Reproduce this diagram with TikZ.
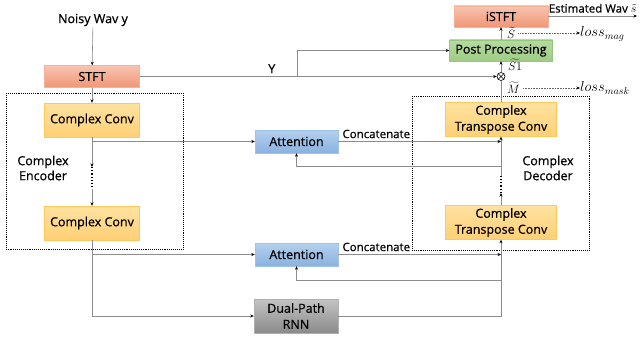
\documentclass[tikz,border=0pt]{standalone}
\usepackage{fontspec}
\setmainfont{Open Sans}[FakeBold=0.7]
\usetikzlibrary{arrows.meta}

\definecolor{fftTop}{RGB}{248,196,176}
\definecolor{fftBot}{RGB}{240,150,118}
\definecolor{fftEdge}{RGB}{245,178,150}
\definecolor{convTop}{RGB}{255,226,160}
\definecolor{convBot}{RGB}{255,208,118}
\definecolor{convEdge}{RGB}{255,200,95}
\definecolor{attTop}{RGB}{180,208,238}
\definecolor{attBot}{RGB}{138,178,224}
\definecolor{attEdge}{RGB}{160,196,232}
\definecolor{ppTop}{RGB}{182,218,160}
\definecolor{ppBot}{RGB}{160,204,134}
\definecolor{ppEdge}{RGB}{150,198,124}
\definecolor{rnnTop}{RGB}{196,196,196}
\definecolor{rnnBot}{RGB}{138,138,138}
\definecolor{rnnEdge}{RGB}{176,176,176}
\definecolor{wire}{RGB}{140,140,140}

\begin{document}
\begin{tikzpicture}[x=1pt,y=-1pt,
	blk/.style={inner sep=0pt, align=center, font=\fontsize{12.5}{16}\selectfont},
	fftbox/.style={blk, draw=fftEdge, top color=fftTop, bottom color=fftBot, minimum width=95, minimum height=22},
	convbox/.style={blk, draw=convEdge, top color=convTop, bottom color=convBot, minimum width=95, minimum height=34},
	deconvbox/.style={blk, draw=convEdge, top color=convTop, bottom color=convBot, minimum width=111, minimum height=34},
	attbox/.style={blk, draw=attEdge, top color=attTop, bottom color=attBot, minimum width=83, minimum height=23},
	ppbox/.style={blk, draw=ppEdge, top color=ppTop, bottom color=ppBot, minimum width=103, minimum height=21},
	rnnbox/.style={blk, draw=rnnEdge, top color=rnnTop, bottom color=rnnBot, minimum width=84, minimum height=34},
	txt/.style={inner sep=1pt, align=center, font=\fontsize{12.5}{15}\selectfont},
	small/.style={inner sep=1pt, font=\fontsize{11.5}{13}\selectfont},
	mlab/.style={inner sep=0pt, font=\fontsize{12}{14}\selectfont},
	losslab/.style={inner sep=0pt, font=\fontsize{14.4}{17}\selectfont},
	conn/.style={draw=wire, line width=0.6pt},
	arr/.style={conn, -{Stealth[length=3.5pt,width=3pt,black]}},
	dotconn/.style={draw=black, line width=1.2pt, dotted},
	lossarr/.style={draw=black!60, line width=0.6pt, densely dotted, -{Stealth[length=3.5pt,width=3pt,black]}},
	dotbox/.style={draw=black, line width=0.9pt, densely dotted}]
\useasboundingbox (0,0) rectangle (640,337);

% encoder / decoder frames
\draw[dotbox] (6,93) rectangle (183,249);
\draw[dotbox] (412,96) rectangle (589,250);

% blocks
\node[txt] (noisy) at (93,20) {Noisy Wav y};
\node[fftbox] (stft) at (92,76.5) {STFT};
\node[convbox] (enc1) at (92,120) {Complex Conv};
\node[convbox] (enc2) at (92,223) {Complex Conv};
\node[txt] (enclab) at (43,168) {Complex\\Encoder};
\node[attbox] (att1) at (296.5,141.5) {Attention};
\node[attbox] (att2) at (296.5,254.5) {Attention};
\node[rnnbox] (rnn) at (296,316) {Dual-Path\\RNN};
\node[deconvbox] (dec1) at (501,119.5) {Complex\\Transpose Conv};
\node[deconvbox] (dec2) at (501,222.5) {Complex\\Transpose Conv};
\node[txt] (declab) at (548,168) {Complex\\Decoder};
\node[circle, draw, line width=0.6pt, minimum size=8pt, inner sep=0pt] (mul) at (501,76.5) {};
\draw[line width=0.6pt] (mul.45) -- (mul.225) (mul.135) -- (mul.315);
\node[ppbox] (post) at (501,50.5) {Post Processing};
\node[fftbox, minimum width=94, minimum height=21] (istft) at (501,16.5) {iSTFT};

% helper points on the wires
\coordinate (encA) at (92,167);
\coordinate (encB) at (92,189);
\coordinate (decA) at (501,193);
\coordinate (decB) at (501,176);
\coordinate (fb1) at (501,166);
\coordinate (fb2) at (501,280);
\coordinate (ytap) at (297,76.5);
\coordinate (out) at (637,16);

% encoder path
\draw[arr] (noisy) -- (stft);
\draw[arr] (stft) -- (enc1);
\draw[arr] (enc1) -- (encA);
\draw[dotconn] (encA) -- (encB);
\draw[arr] (encB) -- (enc2);
\draw[arr] (enc1.south |- att1.west) -- (att1);
\draw[arr] (enc2.south |- att2.west) -- (att2);
\draw[arr] (enc2) |- (rnn);

% skip connections with attention
\draw[arr] (att1) -- (att1 -| dec1) node[small, pos=0, anchor=south west, xshift=3pt, yshift=2pt] {Concatenate};
\draw[arr] (att2) -- (att2 -| dec2) node[small, pos=0, anchor=south west, xshift=3pt, yshift=2pt] {Concatenate};
\draw[arr] (fb1) -| (att1);
\draw[arr] (fb2) -| (att2);

% decoder path
\draw[arr] (rnn) -| (dec2);
\draw[arr] (dec2) -- (decA);
\draw[dotconn] (decA) -- (decB);
\draw[arr] (decB) -- (dec1);
\draw[conn] (dec1) -- (mul);
\draw[arr] (stft.east) -- (mul.west) node[small, pos=0.37, above=2pt, font=\fontsize{12.5}{15}\selectfont] {Y};
\draw[arr] (ytap) |- (post);
\draw[arr] (mul) -- (post);
\draw[arr] (post) -- (istft);
\draw[arr] (istft.east |- out) -- (out) node[small, midway, above=2pt] {Estimated Wav $\tilde{s}$};

% losses
\node[mlab, anchor=west] (mtil) at (507,88) {$\widetilde{M}$};
\node[mlab, anchor=west] (s1til) at (508,65) {$\widetilde{S1}$};
\node[mlab, anchor=west] (stil) at (507,33) {$\widetilde{S}$};
\node[losslab, anchor=west] (lmag) at (580,34) {$loss_{mag}$};
\node[losslab, anchor=west] (lmask) at (580,88) {$loss_{mask}$};
\draw[lossarr] ([xshift=3pt]stil.east) -- (stil.east -| lmag.west);
\draw[lossarr] ([xshift=3pt]mtil.east) -- (mtil.east -| lmask.west);
\end{tikzpicture}
\end{document}
